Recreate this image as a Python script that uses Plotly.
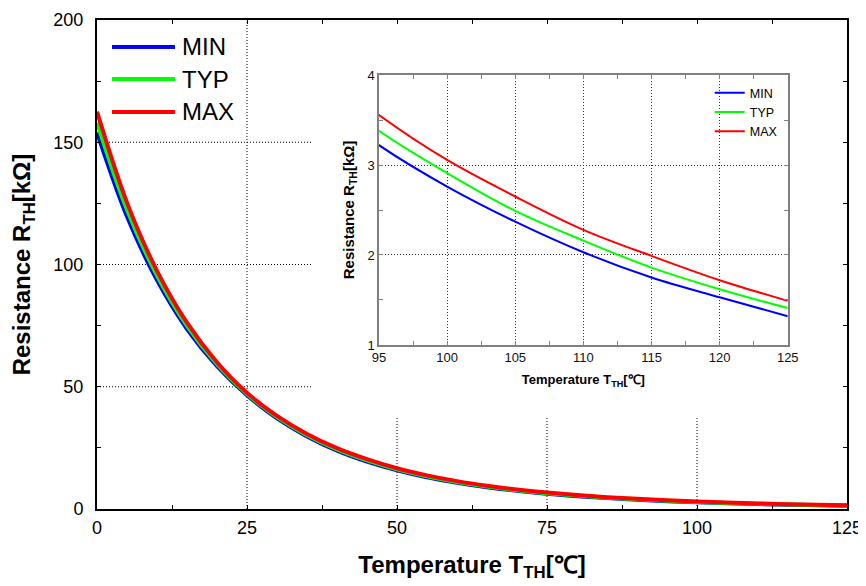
import plotly.graph_objects as go

# ---- data ----
temps = [0, 5, 10, 15, 20, 25, 30, 35, 40, 45, 50, 55, 60, 65, 70, 75,
         80, 85, 90, 95, 100, 105, 110, 115, 120, 125]
r_min = [154.0, 119.6, 93.6, 73.6, 58.4, 46.5, 37.1, 29.7, 23.9, 19.4, 15.83,
         12.98, 10.73, 8.90, 7.42, 6.23, 5.26, 4.45, 3.79, 3.22, 2.76, 2.37,
         2.03, 1.75, 1.53, 1.32]
r_typ = [158.0, 122.4, 95.5, 74.9, 59.2, 47.0, 37.6, 30.2, 24.4, 19.9, 16.25,
         13.37, 11.07, 9.21, 7.70, 6.48, 5.48, 4.65, 3.97, 3.38, 2.91, 2.49,
         2.16, 1.86, 1.62, 1.41]
r_max = [162.5, 125.3, 97.4, 76.2, 60.0, 47.5, 38.1, 30.7, 24.9, 20.4, 16.67,
         13.76, 11.41, 9.52, 7.98, 6.73, 5.70, 4.85, 4.15, 3.556, 3.056, 2.65,
         2.28, 1.99, 1.72, 1.49]
series_names = ["MIN", "TYP", "MAX"]
series_colors = ["#0000FF", "#00FF00", "#FF0000"]
series_values = [r_min, r_typ, r_max]

main_x_ticks = [0, 25, 50, 75, 100, 125]
main_y_ticks = [0, 50, 100, 150, 200]
inset_x_ticks = [95, 100, 105, 110, 115, 120, 125]
inset_y_ticks = [1, 2, 3, 4]

FONT = "Liberation Sans, Arial, sans-serif"

fig = go.Figure()

# main chart traces
for name, color, vals in zip(series_names, series_colors, series_values):
    fig.add_trace(go.Scatter(x=temps, y=vals, mode="lines", name=name,
                             line=dict(color=color, width=4, shape="spline"),
                             showlegend=False, xaxis="x", yaxis="y"))

# inset traces
for name, color, vals in zip(series_names, series_colors, series_values):
    fig.add_trace(go.Scatter(x=temps, y=vals, mode="lines", name=name,
                             line=dict(color=color, width=2, shape="spline"),
                             showlegend=True, legend="legend",
                             xaxis="x2", yaxis="y2"))

# main partial gridlines (dotted)
grid_style = dict(color="#000000", width=1, dash="1px,2px")
shapes = []
for yv in [50, 100, 150]:
    shapes.append(dict(type="line", xref="x", yref="y", x0=0, x1=35.8,
                       y0=yv, y1=yv, line=grid_style, layer="below"))
shapes.append(dict(type="line", xref="x", yref="y", x0=25, x1=25,
                   y0=0, y1=200, line=grid_style, layer="below"))
for xv in [50, 75, 100]:
    shapes.append(dict(type="line", xref="x", yref="y", x0=xv, x1=xv,
                       y0=0, y1=37.2, line=grid_style, layer="below"))

# manual main legend (long line samples)
legend_y = [0.9448, 0.8793, 0.8119]
annotations = []
for name, color, ly in zip(series_names, series_colors, legend_y):
    shapes.append(dict(type="line", xref="paper", yref="paper", x0=0.02,
                       x1=0.104, y0=ly, y1=ly,
                       line=dict(color=color, width=4)))
    annotations.append(dict(text=name, xref="paper", yref="paper", x=0.110,
                            y=ly, xanchor="left", yanchor="middle",
                            showarrow=False,
                            font=dict(family=FONT, size=24, color="#000")))

fig.update_layout(
    width=858, height=578,
    margin=dict(l=89, r=19, t=12, b=77, autoexpand=False),
    paper_bgcolor="white", plot_bgcolor="rgba(0,0,0,0)",
    font=dict(family=FONT, color="#000"),
    shapes=shapes, annotations=annotations,
    xaxis=dict(range=[0, 125], tickvals=main_x_ticks, showgrid=False,
               automargin=False,
               zeroline=False, showline=True, linecolor="#000", linewidth=2,
               mirror="ticks", ticks="inside", ticklen=4, tickcolor="#000",
               minor=dict(dtick=12.5, ticks="inside", ticklen=4,
                          tickcolor="#000", showgrid=False),
               tickfont=dict(size=18, family=FONT), ticklabelstandoff=1,
               title=dict(text="Temperature T<sub>TH</sub>[℃]", standoff=20,
                          font=dict(size=24, family=FONT, weight="bold"))),
    yaxis=dict(range=[0, 200], tickvals=main_y_ticks, showgrid=False,
               automargin=False,
               zeroline=False, showline=True, linecolor="#000", linewidth=2,
               mirror="ticks", ticks="inside", ticklen=4, tickcolor="#000",
               minor=dict(dtick=25, ticks="inside", ticklen=4,
                          tickcolor="#000", showgrid=False),
               tickfont=dict(size=18, family=FONT), ticklabelstandoff=8,
               title=dict(text="Resistance R<sub>TH</sub>[kΩ]", standoff=16,
                          font=dict(size=24, family=FONT, weight="bold"))),
    xaxis2=dict(domain=[0.376, 0.921], anchor="y2", range=[95, 125],
                automargin=False,
                tickvals=inset_x_ticks, showgrid=True, gridcolor="#333",
                griddash="1px,2px", gridwidth=1, zeroline=False,
                showline=True, linecolor="#808080", linewidth=1.5,
                mirror="ticks", ticks="inside", ticklen=4, tickcolor="#808080",
                minor=dict(dtick=2.5, ticks="inside", ticklen=4,
                           tickcolor="#808080", showgrid=False),
                tickfont=dict(size=13, family=FONT, color="#111"),
                ticklabelstandoff=0,
                title=dict(text="Temperature T<sub>TH</sub>[℃]", standoff=11,
                           font=dict(size=13, family=FONT, weight="bold"))),
    yaxis2=dict(domain=[0.3354, 0.8875], anchor="x2", range=[1, 4],
                automargin=False,
                tickvals=inset_y_ticks, showgrid=True, gridcolor="#333",
                griddash="1px,2px", gridwidth=1, zeroline=False,
                showline=True, linecolor="#808080", linewidth=1.5,
                mirror="ticks", ticks="inside", ticklen=4, tickcolor="#808080",
                minor=dict(dtick=0.5, ticks="inside", ticklen=4,
                           tickcolor="#808080", showgrid=False),
                tickfont=dict(size=13, family=FONT, color="#111"),
                ticklabelstandoff=0,
                title=dict(text="Resistance R<sub>TH</sub>[kΩ]", standoff=9,
                           font=dict(size=15, family=FONT, weight="bold"))),
    legend=dict(x=0.817, y=0.881, xanchor="left", yanchor="top",
                bgcolor="rgba(0,0,0,0)", borderwidth=0,
                font=dict(size=12.5, family=FONT, color="#000"),
                tracegroupgap=0, itemwidth=30),
)

fig.write_html("out.html")
